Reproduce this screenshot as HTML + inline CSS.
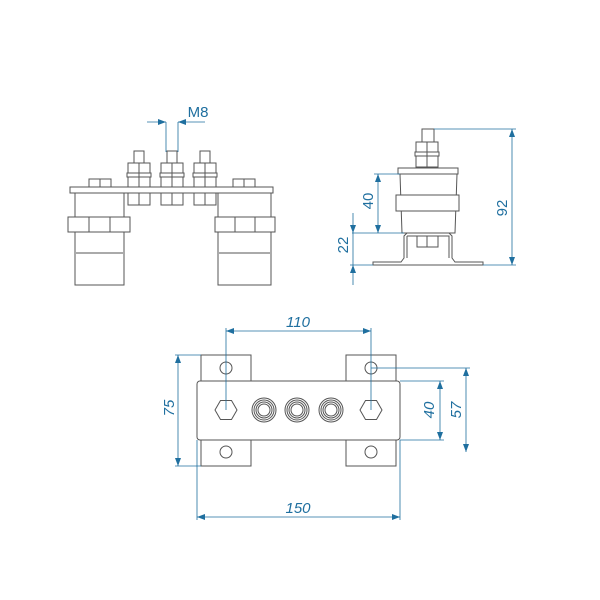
<!DOCTYPE html>
<html><head><style>body{margin:0;background:#fff}svg{display:block}</style></head><body>
<svg width="600" height="600" viewBox="0 0 600 600" xmlns="http://www.w3.org/2000/svg">
<defs>
<marker id="a" markerWidth="8" markerHeight="6" refX="8" refY="3" orient="auto-start-reverse" markerUnits="userSpaceOnUse"><path d="M0,0L8,3L0,6z" fill="#1f6f9f"/></marker>
</defs>
<g fill="none" stroke="#555" stroke-width="1">
<!-- front view -->
<rect x="70" y="187" width="203" height="6" fill="#fff"/>
<path d="M75,193 L124,193 L124,285 L75,285 Z" fill="#fff"/>
<rect x="68" y="217" width="62" height="15" fill="#fff"/>
<line x1="89" y1="217" x2="89" y2="232"/><line x1="110" y1="217" x2="110" y2="232"/>
<line x1="76" y1="253" x2="123" y2="253"/>
<path d="M218,193 L271,193 L271,285 L218,285 Z" fill="#fff"/>
<rect x="215" y="217" width="60" height="15" fill="#fff"/>
<line x1="235" y1="217" x2="235" y2="232"/><line x1="255" y1="217" x2="255" y2="232"/>
<line x1="219" y1="253" x2="270" y2="253"/>
<rect x="89" y="179" width="22" height="8"/><line x1="100" y1="179" x2="100" y2="187"/>
<rect x="233" y="179" width="22" height="8"/><line x1="244" y1="179" x2="244" y2="187"/>
<g id="b">
<rect x="134" y="151" width="10" height="12"/>
<rect x="128" y="163" width="22" height="10"/>
<rect x="127" y="173" width="24" height="4"/>
<rect x="128" y="177" width="22" height="10"/>
<rect x="128" y="193" width="22" height="12"/>
<line x1="139" y1="163" x2="139" y2="187"/><line x1="139" y1="193" x2="139" y2="205"/>
</g>
<use href="#b" x="33"/><use href="#b" x="66"/>
<!-- side view -->
<rect x="422" y="129" width="12" height="13"/>
<rect x="416" y="142" width="22" height="10"/><rect x="415" y="152" width="24" height="4"/><rect x="416" y="156" width="22" height="11"/>
<line x1="427" y1="142" x2="427" y2="167"/>
<rect x="398" y="168" width="60" height="6"/>
<path d="M400,174 L457,174 L455,233 L402,233 Z"/>
<rect x="396" y="195" width="63" height="16" fill="#fff"/>
<path d="M373,265 L483,265 L483,262 L455,262 L452,258 L452,236 L449,233 L407,233 L404,236 L404,258 L401,262 L373,262 Z"/>
<path d="M407,236 L449,236 L449,258 M407,236 L407,258"/>
<rect x="417" y="236" width="21" height="11"/><line x1="427" y1="236" x2="427" y2="247"/>
<!-- bottom view -->
<rect x="201" y="355" width="50" height="27"/><rect x="346" y="355" width="50" height="27"/>
<rect x="201" y="440" width="50" height="26"/><rect x="346" y="440" width="50" height="26"/>
<rect x="197" y="381" width="203" height="59" rx="3" fill="#fff"/>
<circle cx="226" cy="368" r="6"/><circle cx="371" cy="368" r="6"/>
<circle cx="226" cy="452" r="6"/><circle cx="371" cy="452" r="6"/>
<polygon points="215,410 220.5,400.5 231.5,400.5 237,410 231.5,419.5 220.5,419.5"/>
<polygon points="360,410 365.5,400.5 376.5,400.5 382,410 376.5,419.5 365.5,419.5"/>
<g><circle cx="264" cy="410" r="12"/><circle cx="264" cy="410" r="10"/><circle cx="264" cy="410" r="8"/><circle cx="264" cy="410" r="6"/></g>
<g><circle cx="297" cy="410" r="12"/><circle cx="297" cy="410" r="10"/><circle cx="297" cy="410" r="8"/><circle cx="297" cy="410" r="6"/></g>
<g><circle cx="331" cy="410" r="12"/><circle cx="331" cy="410" r="10"/><circle cx="331" cy="410" r="8"/><circle cx="331" cy="410" r="6"/></g>
</g>
<g stroke="#1f6f9f" stroke-width="0.8" fill="none">
<!-- M8 -->
<line x1="166" y1="122" x2="166" y2="152"/><line x1="178" y1="122" x2="178" y2="152"/>
<line x1="147" y1="122" x2="166" y2="122" marker-end="url(#a)"/><line x1="205" y1="122" x2="178" y2="122" marker-end="url(#a)"/>
<!-- side dims -->
<line x1="434" y1="129" x2="516" y2="129"/><line x1="483" y1="265" x2="516" y2="265"/>
<line x1="512" y1="129" x2="512" y2="265" marker-start="url(#a)" marker-end="url(#a)"/>
<line x1="374" y1="174" x2="400" y2="174"/><line x1="352" y1="233" x2="404" y2="233"/>
<line x1="378" y1="174" x2="378" y2="233" marker-start="url(#a)" marker-end="url(#a)"/>
<line x1="350" y1="265" x2="373" y2="265"/>
<line x1="353" y1="213" x2="353" y2="233" marker-end="url(#a)"/>
<line x1="353" y1="285" x2="353" y2="265" marker-end="url(#a)"/>
<line x1="353" y1="233" x2="353" y2="265"/>
<!-- 110 -->
<line x1="226" y1="328" x2="226" y2="410"/><line x1="371" y1="328" x2="371" y2="410"/>
<line x1="226" y1="331" x2="371" y2="331" marker-start="url(#a)" marker-end="url(#a)"/>
<!-- 75 -->
<line x1="175" y1="355" x2="201" y2="355"/><line x1="175" y1="466" x2="201" y2="466"/>
<line x1="178" y1="355" x2="178" y2="466" marker-start="url(#a)" marker-end="url(#a)"/>
<!-- 150 -->
<line x1="197" y1="440" x2="197" y2="520"/><line x1="400" y1="440" x2="400" y2="520"/>
<line x1="197" y1="517" x2="400" y2="517" marker-start="url(#a)" marker-end="url(#a)"/>
<!-- 40 -->
<line x1="400" y1="381" x2="444" y2="381"/><line x1="400" y1="440" x2="444" y2="440"/>
<line x1="440" y1="381" x2="440" y2="440" marker-start="url(#a)" marker-end="url(#a)"/>
<!-- 57 -->
<line x1="371" y1="368" x2="470" y2="368"/>
<line x1="466" y1="368" x2="466" y2="452" marker-start="url(#a)" marker-end="url(#a)"/>
</g>
<g fill="#1f6f9f" font-family="Liberation Sans, sans-serif" font-size="15">
<text x="198" y="117" text-anchor="middle">M8</text>
<text x="298" y="327" text-anchor="middle" font-style="italic">110</text>
<text x="298" y="513" text-anchor="middle" font-style="italic">150</text>
<text transform="translate(174,408) rotate(-90)" text-anchor="middle" font-style="italic">75</text>
<text transform="translate(434,410) rotate(-90)" text-anchor="middle" font-style="italic">40</text>
<text transform="translate(461,410) rotate(-90)" text-anchor="middle" font-style="italic">57</text>
<text transform="translate(507,208) rotate(-90)" text-anchor="middle">92</text>
<text transform="translate(373,201) rotate(-90)" text-anchor="middle">40</text>
<text transform="translate(348,245) rotate(-90)" text-anchor="middle">22</text>
</g>
</svg>
</body></html>
